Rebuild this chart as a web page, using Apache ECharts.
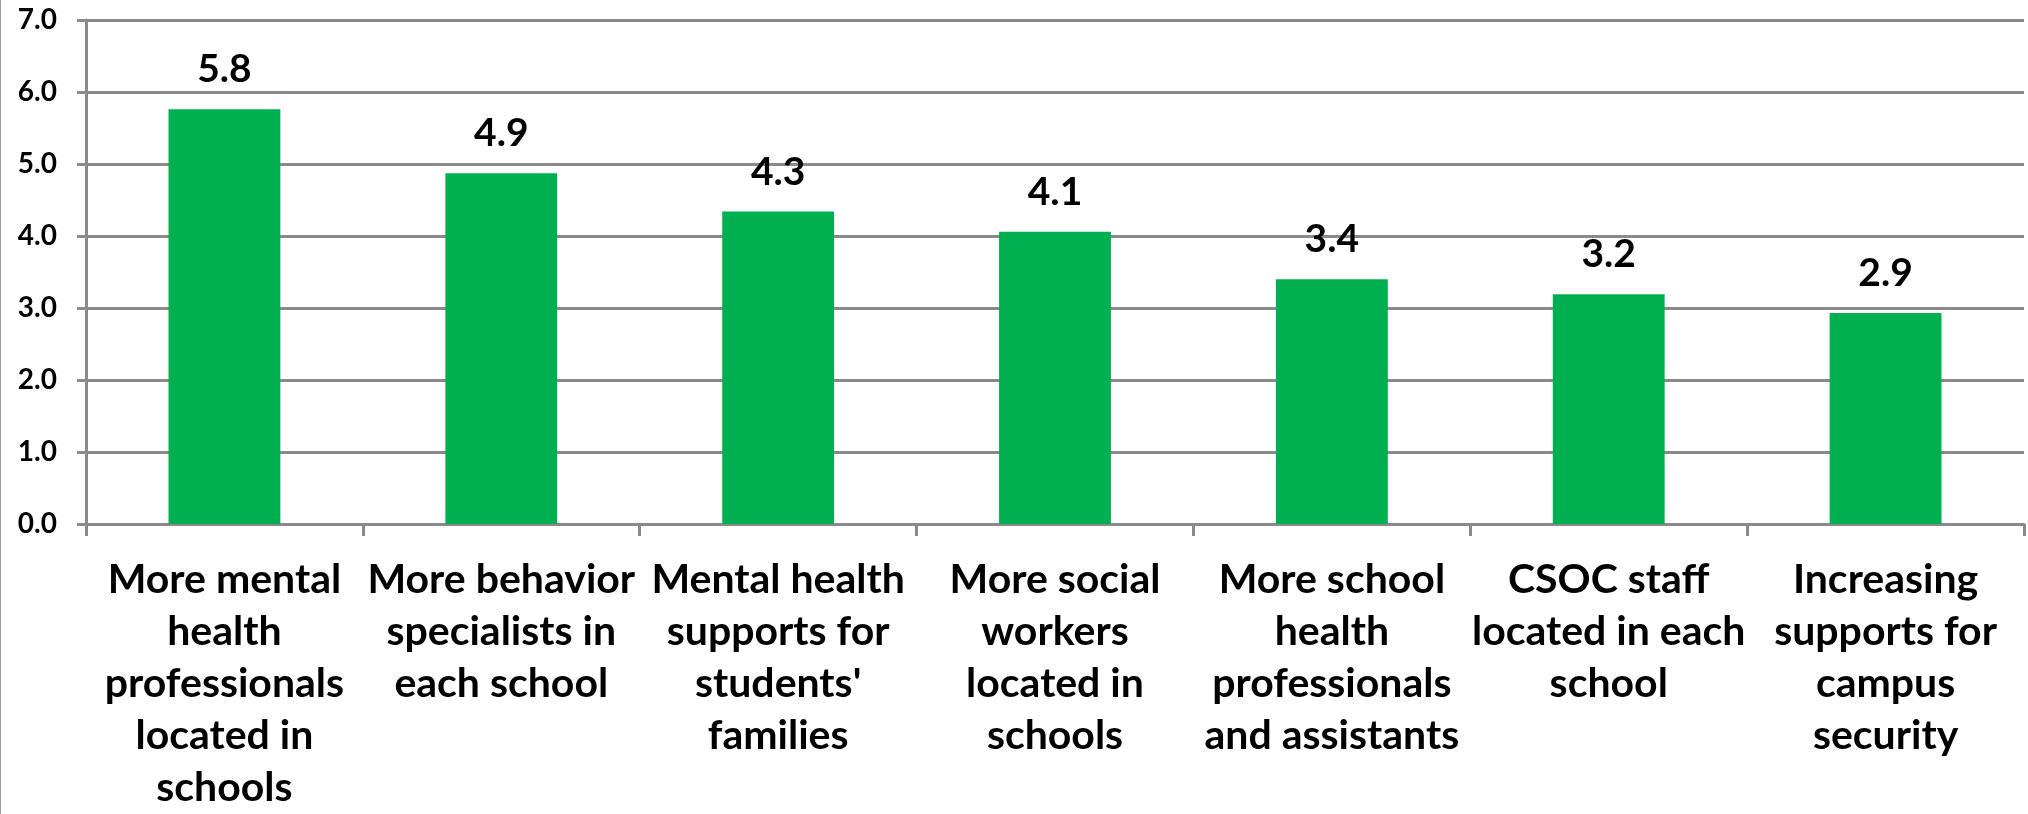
<!DOCTYPE html>
<html>
<head>
<meta charset="utf-8">
<title>Preferred school supports</title>
<script src="https://cdn.jsdelivr.net/npm/echarts@6/dist/echarts.min.js"></script>
<style>
  html, body { margin: 0; padding: 0; background: #ffffff; }
  #chart { width: 2028px; height: 814px; }
</style>
</head>
<body>
<div id="chart"></div>
<script>
// Category labels, wrapped the way they appear under each bar
const categories = [
  "More mental\nhealth\nprofessionals\nlocated in\nschools",
  "More behavior\nspecialists in\neach school",
  "Mental health\nsupports for\nstudents'\nfamilies",
  "More social\nworkers\nlocated in\nschools",
  "More school\nhealth\nprofessionals\nand assistants",
  "CSOC staff\nlocated in each\nschool",
  "Increasing\nsupports for\ncampus\nsecurity"
];

// Average score per support option
const scores = [5.76, 4.87, 4.34, 4.06, 3.40, 3.19, 2.93];

// Value axis range
const yMin = 0;
const yMax = 7;
const yStep = 1;

const FONT = "Lato, 'Noto Sans', sans-serif";
const GRID_GRAY = '#8a8a8a';

const chart = echarts.init(document.getElementById('chart'), null, { renderer: 'canvas' });

chart.setOption({
  backgroundColor: '#ffffff',
  animation: false,
  grid: { left: 86, right: 4, top: 20, bottom: 281, containLabel: false },
  xAxis: {
    type: 'category',
    data: categories,
    boundaryGap: true,
    axisLine: { show: true, lineStyle: { color: GRID_GRAY, width: 3 } },
    axisTick: { show: true, length: 12, lineStyle: { color: GRID_GRAY, width: 3 } },
    axisLabel: {
      interval: 0,
      margin: 30,
      color: '#000000',
      fontFamily: FONT,
      fontWeight: 'bold',
      fontSize: 41,
      lineHeight: 52,
      align: 'center'
    }
  },
  yAxis: {
    type: 'value',
    min: yMin,
    max: yMax,
    interval: yStep,
    axisLine: { show: true, lineStyle: { color: GRID_GRAY, width: 3 } },
    axisTick: { show: true, length: 9, lineStyle: { color: GRID_GRAY, width: 3 } },
    splitLine: { show: true, lineStyle: { color: GRID_GRAY, width: 3 } },
    axisLabel: {
      margin: 29,
      color: '#000000',
      fontFamily: FONT,
      fontWeight: 'bold',
      fontSize: 28,
      formatter: v => v.toFixed(1)
    }
  },
  series: [{
    type: 'bar',
    data: scores,
    barWidth: '40.4%',
    itemStyle: { color: '#00b050' },
    label: {
      show: true,
      position: 'top',
      distance: 20,
      color: '#000000',
      fontFamily: FONT,
      fontWeight: 'bold',
      fontSize: 39,
      formatter: p => p.value.toFixed(1)
    }
  }],
  graphic: [{
    type: 'line',
    shape: { x1: 0.5, y1: 0, x2: 0.5, y2: 814 },
    style: { stroke: '#9a9a9a', lineWidth: 1 },
    silent: true
  }]
});
</script>
</body>
</html>
